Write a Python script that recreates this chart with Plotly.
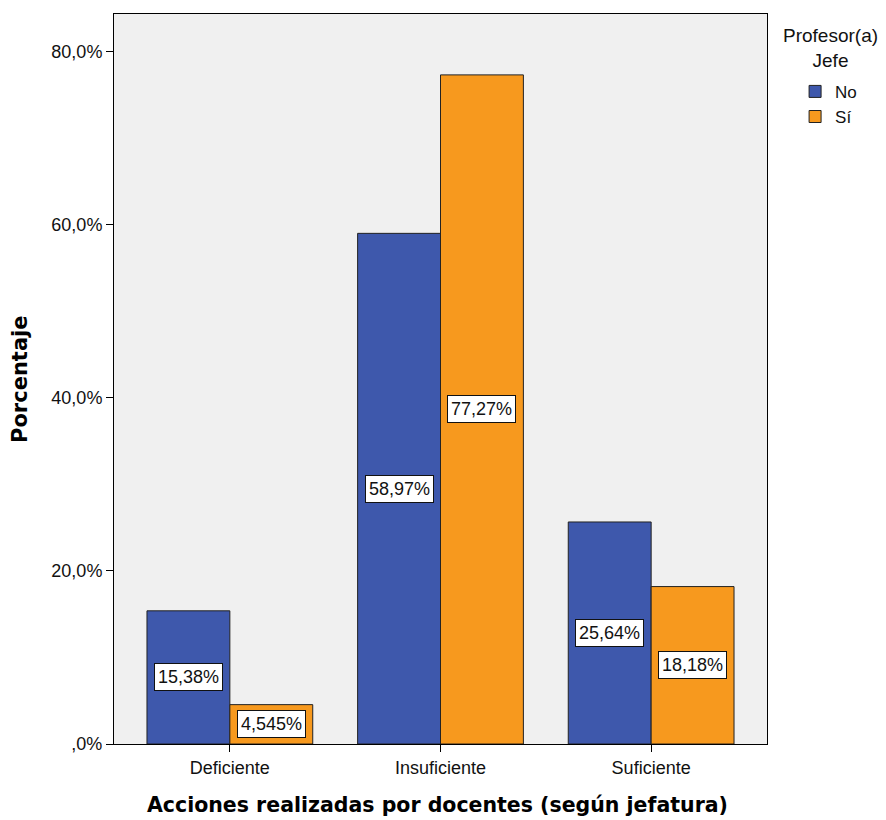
import plotly.graph_objects as go

categories = ["Deficiente", "Insuficiente", "Suficiente"]
series_names = ["No", "Sí"]
no_values = [15.38, 58.97, 25.64]
si_values = [4.545, 77.27, 18.18]
no_labels = ["15,38%", "58,97%", "25,64%"]
si_labels = ["4,545%", "77,27%", "18,18%"]
y_tickvals = [0, 20, 40, 60, 80]
y_ticktext = [",0%", "20,0%", "40,0%", "60,0%", "80,0%"]
legend_title = "Profesor(a)<br>Jefe"

BLUE = "#3e58ac"
ORANGE = "#f7991e"
FONT = "Liberation Sans, Arial, sans-serif"
BOLD = "DejaVu Sans, sans-serif"

bargap = 0.213
offset = (1 - bargap) / 4

fig = go.Figure()
fig.add_trace(go.Bar(x=categories, y=no_values, name=series_names[0],
                     marker=dict(color=BLUE, line=dict(color="#222222", width=1))))
fig.add_trace(go.Bar(x=categories, y=si_values, name=series_names[1],
                     marker=dict(color=ORANGE, line=dict(color="#222222", width=1))))

annotations = []
for i, (v, t) in enumerate(zip(no_values, no_labels)):
    annotations.append(dict(x=i - offset, y=v / 2, xref="x", yref="y", text=t,
                            showarrow=False, font=dict(family=FONT, size=18, color="#111"),
                            bgcolor="white", bordercolor="#111", borderwidth=1, borderpad=3))
for i, (v, t) in enumerate(zip(si_values, si_labels)):
    annotations.append(dict(x=i + offset, y=v / 2, xref="x", yref="y", text=t,
                            showarrow=False, font=dict(family=FONT, size=18, color="#111"),
                            bgcolor="white", bordercolor="#111", borderwidth=1, borderpad=3))

annotations.append(dict(x=-0.144, y=0.5, xref="paper", yref="paper", text="<b>Porcentaje</b>",
                        textangle=-90, showarrow=False, xanchor="center", yanchor="middle",
                        font=dict(family=BOLD, size=21, color="black")))
annotations.append(dict(x=0.496, y=-0.0836, xref="paper", yref="paper",
                        text="<b>Acciones realizadas por docentes (según jefatura)</b>",
                        showarrow=False, xanchor="center", yanchor="middle",
                        font=dict(family=BOLD, size=20.5, color="black")))
annotations.append(dict(x=1.098, y=0.988, xref="paper", yref="paper", text=legend_title,
                        showarrow=False, xanchor="center", yanchor="top", align="center",
                        font=dict(family=FONT, size=19, color="#111")))

# The page body adds an 8px offset; the figure is sized so it fits the 886x820 window.
fig.update_layout(
    width=878, height=812,
    margin=dict(l=106, r=119, t=6, b=76, autoexpand=False),
    paper_bgcolor="white", plot_bgcolor="#f0f0f0",
    barmode="group", bargap=bargap, bargroupgap=0,
    font=dict(family=FONT, size=18, color="#111"),
    showlegend=True,
    legend=dict(x=1.043, y=0.918, xanchor="left", yanchor="top",
                font=dict(family=FONT, size=17, color="#111"),
                tracegroupgap=0, itemwidth=30, bgcolor="rgba(0,0,0,0)"),
    annotations=annotations,
    xaxis=dict(type="category", range=[-0.55, 2.55], showline=True, linecolor="black",
               linewidth=1, mirror=True, ticks="outside", ticklen=7, tickcolor="black",
               showgrid=False, automargin=False,
               tickfont=dict(family=FONT, size=18, color="#111")),
    yaxis=dict(range=[0, 84.3], tickvals=y_tickvals, ticktext=y_ticktext, showline=True,
               linecolor="black", linewidth=1, mirror=True, ticks="outside", ticklen=7,
               tickcolor="black", showgrid=False, zeroline=False, automargin=False,
               tickfont=dict(family=FONT, size=18, color="#111")),
)

fig.write_html("out.html")
